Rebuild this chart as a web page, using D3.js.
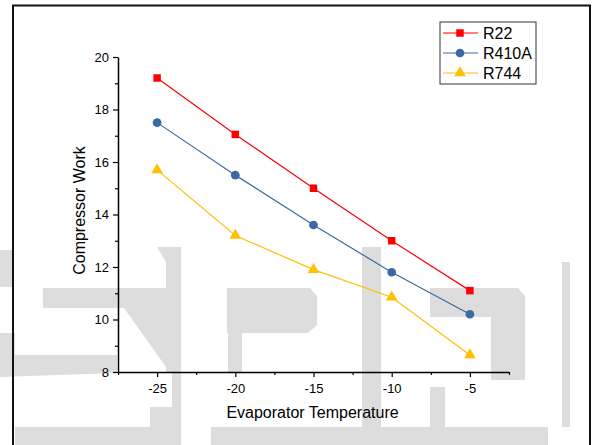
<!DOCTYPE html>
<html>
<head>
<meta charset="utf-8">
<script src="https://cdn.jsdelivr.net/npm/d3@7"></script>
<style>
  body { margin: 0; background: #fff; }
  text { font-family: "Liberation Sans", Arial, sans-serif; fill: #000; }
</style>
</head>
<body>
<div id="chart"></div>
<script>
var temps = [-25, -20, -15, -10, -5];
var r22   = [19.2, 17.05, 15.0, 13.0, 11.1];
var r410a = [17.5, 15.5, 13.6, 11.8, 10.2];
var r744  = [15.7, 13.2, 11.9, 10.85, 8.65];
var seriesNames = ["R22", "R410A", "R744"];
var xTicks = [-25, -20, -15, -10, -5];
var yTicks = [8, 10, 12, 14, 16, 18, 20];

var W = 592, H = 445;
var margin = {left: 118, top: 57},
    width  = 391,
    height = 315;

var x = d3.scaleLinear().domain([-27.5, -2.5]).range([0, width]);
var y = d3.scaleLinear().domain([8, 20]).range([height, 0]);

var color = d3.scaleOrdinal()
    .domain(seriesNames)
    .range(["#ff0000", "#3a6aa3", "#ffc000"]);
var shape = d3.scaleOrdinal()
    .domain(seriesNames)
    .range([d3.symbolSquare, d3.symbolCircle, d3.symbolTriangle]);
var size = d3.scaleOrdinal()
    .domain(seriesNames)
    .range([56, 60, 58]);

var series = [
  {name: "R22",   values: r22},
  {name: "R410A", values: r410a},
  {name: "R744",  values: r744}
];

var svg = d3.select("#chart").append("svg")
    .attr("width", W)
    .attr("height", H);

// faint background watermark (big grey letters behind the plot)
var wm = [
  [[0,250],[12,250],[12,287],[0,287]],
  [[43,288],[181,288],[181,308],[43,308]],
  [[157,247],[181,247],[181,372],[166,372],[166,262]],
  [[124,308],[166,308],[166,367]],
  [[0,333],[15,333],[15,355],[117,355],[117,373],[0,377]],
  [[172,372],[181,372],[181,445],[150,445],[150,407],[172,407]],
  [[15,427],[150,427],[150,445],[15,445]],
  [[227,288],[310,288],[317,296],[317,325],[308,333],[227,333]],
  [[228,333],[242,333],[242,373],[228,373]],
  [[362,247],[381,247],[381,427],[362,427]],
  [[430,288],[518,288],[525,296],[525,317],[430,317]],
  [[491,317],[525,317],[525,380],[491,380]],
  [[430,387],[445,387],[445,427],[430,427]],
  [[211,427],[548,427],[548,445],[211,445]],
  [[562,262],[570,262],[570,427],[562,427]]
];
svg.append("g").selectAll("polygon")
    .data(wm)
  .enter().append("polygon")
    .attr("points", function (d) { return d.join(" "); })
    .attr("fill", "#dddddd");

// outer frame
svg.append("rect")
    .attr("x", 13).attr("y", 5.5)
    .attr("width", 577).attr("height", 460)
    .attr("fill", "none")
    .attr("stroke", "#111")
    .attr("stroke-width", 2);

var g = svg.append("g")
    .attr("transform", "translate(" + margin.left + "," + margin.top + ")");

var fmt = function (d) { return String(d); };

// minor ticks
g.append("g")
    .attr("transform", "translate(0," + height + ")")
    .call(d3.axisBottom(x).tickValues([-27.5, -22.5, -17.5, -12.5, -7.5, -2.5]).tickSize(3).tickFormat(""))
    .call(function (s) { s.select(".domain").remove(); });
g.append("g")
    .call(d3.axisLeft(y).tickValues([9, 11, 13, 15, 17, 19]).tickSize(3).tickFormat(""))
    .call(function (s) { s.select(".domain").remove(); });

// major axes
g.append("g")
    .attr("transform", "translate(0," + height + ")")
    .call(d3.axisBottom(x).tickValues(xTicks).tickFormat(fmt).tickSize(5).tickSizeOuter(0).tickPadding(7));
g.append("g")
    .call(d3.axisLeft(y).tickValues(yTicks).tickFormat(fmt).tickSize(5).tickSizeOuter(0).tickPadding(4));

g.selectAll(".domain").attr("stroke-width", 1.5);
g.selectAll(".tick line").attr("stroke-width", 1.2);
g.selectAll(".tick text")
    .style("font-family", "'Liberation Sans', Arial, sans-serif")
    .style("font-size", "13px");

// axis titles
g.append("text")
    .attr("x", width / 2 - 1)
    .attr("y", height + 46)
    .attr("text-anchor", "middle")
    .style("font-size", "16px")
    .text("Evaporator Temperature");

g.append("text")
    .attr("transform", "rotate(-90)")
    .attr("x", -height / 2 + 4)
    .attr("y", -33)
    .attr("text-anchor", "middle")
    .style("font-size", "16px")
    .text("Compressor Work");

// lines + markers
var line = d3.line()
    .x(function (d, i) { return x(temps[i]); })
    .y(function (d) { return y(d); });

var sg = g.selectAll("g.series")
    .data(series)
  .enter().append("g")
    .attr("class", "series");

sg.append("path")
    .attr("d", function (d) { return line(d.values); })
    .attr("fill", "none")
    .attr("stroke", function (d) { return color(d.name); })
    .attr("stroke-width", 1.2);

sg.selectAll("path.pt")
    .data(function (d) { return d.values.map(function (v, i) { return {name: d.name, t: temps[i], v: v}; }); })
  .enter().append("path")
    .attr("class", "pt")
    .attr("transform", function (d) { return "translate(" + x(d.t) + "," + y(d.v) + ")"; })
    .attr("d", function (d) { return d3.symbol().type(shape(d.name)).size(size(d.name))(); })
    .attr("fill", function (d) { return color(d.name); });

// legend
var legend = svg.append("g")
    .attr("transform", "translate(440,22)");

legend.append("rect")
    .attr("width", 96)
    .attr("height", 62)
    .attr("fill", "#fff")
    .attr("stroke", "#333")
    .attr("stroke-width", 1);

var li = legend.selectAll("g.item")
    .data(seriesNames)
  .enter().append("g")
    .attr("class", "item")
    .attr("transform", function (d, i) { return "translate(0," + (11 + i * 20) + ")"; });

li.append("line")
    .attr("x1", 3).attr("x2", 38)
    .attr("stroke", function (d) { return color(d); })
    .attr("stroke-width", 1.2);

li.append("path")
    .attr("transform", "translate(20,0)")
    .attr("d", function (d) { return d3.symbol().type(shape(d)).size(size(d))(); })
    .attr("fill", function (d) { return color(d); });

li.append("text")
    .attr("x", 43)
    .attr("y", 5.5)
    .style("font-size", "16px")
    .text(function (d) { return d; });
</script>
</body>
</html>
